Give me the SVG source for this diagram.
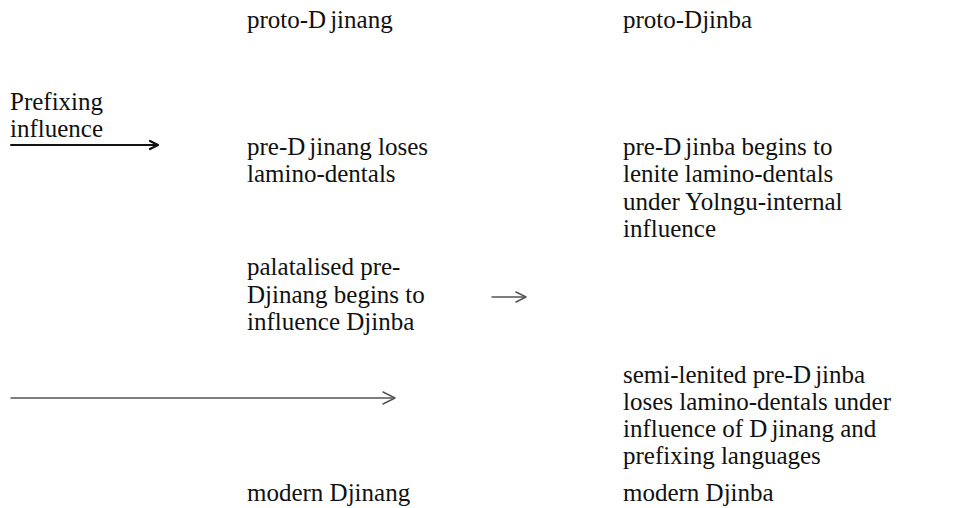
<svg xmlns="http://www.w3.org/2000/svg" width="953" height="508" viewBox="0 0 953 508">
<style>
text{font-family:"Liberation Serif","Times New Roman",serif;font-size:25px;fill:#111}
.ln{fill:none;stroke-linecap:round;stroke-linejoin:round}
</style>
<rect width="953" height="508" fill="#fff"/>
<g id="proto-djinang"><text x="247" y="28">proto-D<tspan dx="4">jinang</tspan></text></g>
<g id="proto-djinba"><text x="623" y="28">proto-Djinba</text></g>
<g id="prefixing-influence"><text x="10" y="110">Prefixing</text><text x="10" y="137">influence</text></g>
<g id="pre-djinang"><text x="247" y="155">pre-D<tspan dx="4">jinang loses</tspan></text><text x="247" y="182">lamino-dentals</text></g>
<g id="pre-djinba"><text x="623" y="155">pre-D<tspan dx="4">jinba begins to</tspan></text><text x="623" y="182">lenite lamino-dentals</text><text x="623" y="210">under Yolngu-internal</text><text x="623" y="237">influence</text></g>
<g id="palatalised"><text x="247" y="275">palatalised pre-</text><text x="247" y="303">Djinang begins to</text><text x="247" y="330">influence Djinba</text></g>
<g id="semi-lenited"><text x="623" y="383">semi-lenited pre-D<tspan dx="4">jinba</tspan></text><text x="623" y="410">loses lamino-dentals under</text><text x="623" y="437">influence of D<tspan dx="4">jinang and</tspan></text><text x="623" y="464">prefixing languages</text></g>
<g id="modern-djinang"><text x="247" y="501">modern Djinang</text></g>
<g id="modern-djinba"><text x="623" y="501">modern Djinba</text></g>
<g id="connectors">
<path class="ln" d="M11 145H157" stroke="#111" stroke-width="2"/>
<path class="ln" d="M150 141L158 145L150 149" stroke="#111" stroke-width="2.2"/>
<path class="ln" d="M492 297H525" stroke="#555" stroke-width="1.5"/>
<path class="ln" d="M516 292L526 297L516 302" stroke="#555" stroke-width="1.5"/>
<path class="ln" d="M11 398H394" stroke="#555" stroke-width="1.5"/>
<path class="ln" d="M383 392L395 398L383 404" stroke="#555" stroke-width="1.5"/>
</g>
</svg>
